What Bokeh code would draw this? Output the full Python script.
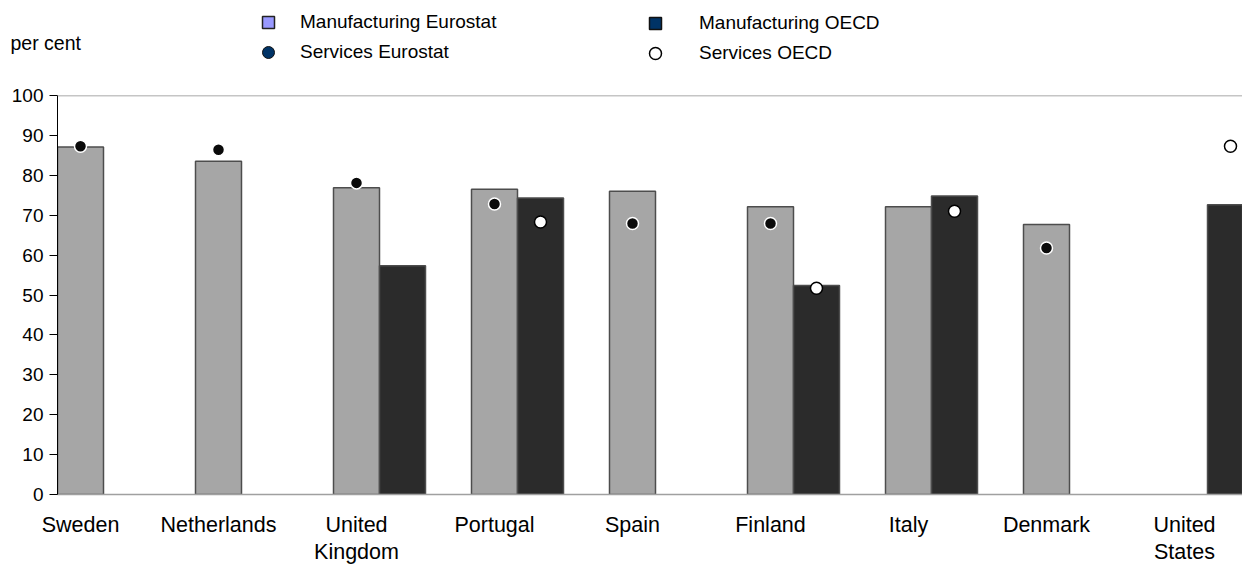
from bokeh.plotting import figure
from bokeh.models import (ColumnDataSource, Range1d, FixedTicker, Span, Legend,
                          LegendItem, Label)
from bokeh.layouts import column
from bokeh.embed import file_html
from bokeh.resources import INLINE

countries = ["Sweden", "Netherlands", "United\nKingdom", "Portugal", "Spain",
             "Finland", "Italy", "Denmark", "United\nStates"]
manuf_eurostat = [87.1, 83.5, 76.9, 76.5, 76.0, 72.1, 72.1, 67.7, None]
manuf_oecd = [None, None, 57.3, 74.3, None, 52.4, 74.8, None, 72.6]
serv_eurostat = [87.3, 86.4, 78.1, 72.8, 67.9, 67.9, None, 61.8, None]
serv_oecd = [None, None, None, 68.3, None, 51.7, 71.0, None, 87.3]
y_ticks = list(range(0, 101, 10))

BAR_W = 1 / 3
FONT = "Liberation Sans"
W = 1242
TOP_H = 83


def series(vals, offset):
    xs, ys = [], []
    for i, v in enumerate(vals):
        if v is not None:
            xs.append(i + offset)
            ys.append(v)
    return ColumnDataSource(dict(x=xs, y=ys))


# ---------- header strip: legend + unit label ----------
top = figure(width=W, height=TOP_H, output_backend="svg", toolbar_location=None,
             x_range=Range1d(0, W), y_range=Range1d(TOP_H, 0),
             x_axis_type=None, y_axis_type=None, min_border=0)
top.frame_align = False
top.outline_line_color = None
top.xgrid.visible = False
top.ygrid.visible = False

# legend proxies (one point far outside the visible range)
off = dict(x=[-1000], y=[-1000])
r1 = top.scatter(x=off["x"], y=off["y"], marker="square", size=12,
                 fill_color="#9999FF", line_color="#222222", line_width=1.5)
r2 = top.scatter(x=off["x"], y=off["y"], marker="circle", size=13,
                 fill_color="#003366", line_color="#111111", line_width=1)
r3 = top.scatter(x=off["x"], y=off["y"], marker="square", size=12,
                 fill_color="#003366", line_color="#111111", line_width=1.5)
r4 = top.scatter(x=off["x"], y=off["y"], marker="circle", size=12,
                 fill_color="white", line_color="black", line_width=1.5)


def make_legend(items, loc, standoff):
    return Legend(items=items, location=loc, orientation="vertical",
                  background_fill_alpha=0, border_line_alpha=0,
                  padding=0, margin=0, spacing=0, glyph_width=30,
                  glyph_height=30, label_height=20, label_standoff=standoff,
                  label_text_font=FONT, label_text_font_size="19px",
                  label_text_color="black")


top.add_layout(make_legend(
    [LegendItem(label="Manufacturing Eurostat", renderers=[r1]),
     LegendItem(label="Services Eurostat", renderers=[r2])],
    (253, TOP_H - 67), 17))
top.add_layout(make_legend(
    [LegendItem(label="Manufacturing OECD", renderers=[r3]),
     LegendItem(label="Services OECD", renderers=[r4])],
    (640, TOP_H - 68), 29))
top.add_layout(Label(x=10, y=42, text="per cent", text_font=FONT,
                     text_font_size="19.5px", text_baseline="middle",
                     text_color="black"))

# ---------- main chart ----------
p = figure(width=W, height=484, output_backend="svg", toolbar_location=None,
           x_range=Range1d(-1 / 6, -1 / 6 + 1185 / 138), y_range=Range1d(0, 100),
           min_border_left=57, min_border_right=0, min_border_top=12,
           min_border_bottom=72)
p.frame_align = False
p.outline_line_color = None
p.xgrid.visible = False
p.ygrid.visible = False

p.vbar(x="x", top="y", width=BAR_W, source=series(manuf_eurostat, 0),
       fill_color="#A6A6A6", line_color="#4D4D4D", line_width=1.5)
p.vbar(x="x", top="y", width=BAR_W, source=series(manuf_oecd, BAR_W),
       fill_color="#2B2B2B", line_color="#4D4D4D", line_width=1.5)
p.scatter(x="x", y="y", source=series(serv_eurostat, 0), marker="circle",
          size=12, fill_color="#0A0A0A", line_color="white", line_width=1.5)
p.scatter(x="x", y="y", source=series(serv_oecd, BAR_W), marker="circle",
          size=12, fill_color="white", line_color="black", line_width=1.5)

p.add_layout(Span(location=100, dimension="width", line_color="#8C8C8C",
                  line_width=1.5))

ya = p.yaxis[0]
ya.ticker = FixedTicker(ticks=y_ticks)
ya.axis_line_color = "black"
ya.axis_line_width = 1
ya.major_tick_out = 8
ya.major_tick_in = 0
ya.major_tick_line_color = "black"
ya.minor_tick_line_color = None
ya.major_label_standoff = 6
ya.major_label_text_font = FONT
ya.major_label_text_font_size = "19px"
ya.major_label_text_color = "black"

xa = p.xaxis[0]
xa.ticker = FixedTicker(ticks=list(range(len(countries))))
xa.major_label_overrides = {i: c for i, c in enumerate(countries)}
xa.axis_line_color = "#A0A0A0"
xa.axis_line_width = 1.5
xa.major_tick_line_color = None
xa.minor_tick_line_color = None
xa.major_tick_out = 0
xa.major_tick_in = 0
xa.major_label_standoff = 18
xa.major_label_text_font = FONT
xa.major_label_text_font_size = "21.5px"
xa.major_label_text_line_height = 1.15
xa.major_label_text_color = "black"

layout = column(top, p, spacing=0)
open("out.html", "w").write(file_html(layout, INLINE))
